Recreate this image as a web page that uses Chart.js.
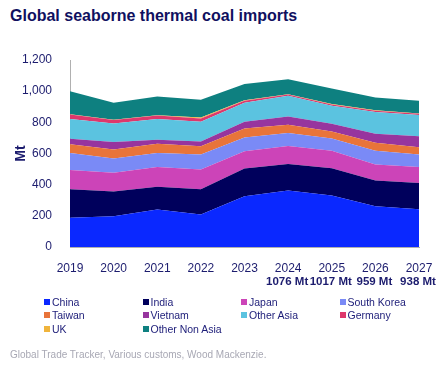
<!DOCTYPE html>
<html>
<head>
<meta charset="utf-8">
<script src="https://cdn.jsdelivr.net/npm/chart.js@4"></script>
<style>
  body { margin: 0; width: 448px; height: 367px; position: relative; background: #fff; font-family: "Liberation Sans", Arial, sans-serif; overflow: hidden; }
  #title { position: absolute; left: 10px; top: 6px; font-size: 16px; line-height: 20px; font-weight: bold; color: #10105f; }
  #chart { position: absolute; left: 0; top: 0; }
  #legend { position: absolute; left: 44px; top: 295px; display: grid; grid-template-columns: repeat(4, 98.5px); grid-auto-rows: 13.5px; font-size: 10.5px; color: #1c1c78; }
  #legend div { display: flex; align-items: center; white-space: nowrap; }
  #legend span.box { width: 6px; height: 6px; margin-right: 2px; display: inline-block; }
  #source { position: absolute; left: 10px; top: 349px; font-size: 10px; color: #a8a8b4; }
</style>
</head>
<body>
<div id="title">Global seaborne thermal coal imports</div>
<canvas id="chart" width="448" height="367"></canvas>
<div id="legend"></div>
<div id="source">Global Trade Tracker, Various customs, Wood Mackenzie.</div>
<script>
const years = ['2019', '2020', '2021', '2022', '2023', '2024', '2025', '2026', '2027'];
const totalLabels = ['', '', '', '', '', '1076 Mt', '1017 Mt', '959 Mt', '938 Mt'];

const china = [188, 198, 241, 209, 325, 362, 330, 262, 243];
const india = [183, 158, 145, 162, 179, 170, 175, 165, 168];
const japan = [123, 121, 127, 127, 110, 116, 113, 102, 103];
const southKorea = [109, 91, 90, 95, 89, 84, 78, 88, 80];
const taiwan = [57, 57, 60, 53, 58, 53, 45, 52, 46];
const vietnam = [34, 48, 25, 31, 43, 52, 50, 58, 70];
const otherAsia = [127, 120, 133, 127, 122, 133, 115, 140, 137];
const germany = [29, 22, 23, 20, 13, 9, 9, 8, 8];
const uk = [2, 1, 2, 7, 2, 2, 2, 2, 2];
const otherNonAsia = [148, 110, 120, 114, 105, 95, 100, 82, 81];

const series = [
    { label: 'China', data: china, color: '#0a28ff' },
    { label: 'India', data: india, color: '#00005c' },
    { label: 'Japan', data: japan, color: '#cc44b8' },
    { label: 'South Korea', data: southKorea, color: '#7a8af6' },
    { label: 'Taiwan', data: taiwan, color: '#e8743a' },
    { label: 'Vietnam', data: vietnam, color: '#97359e' },
    { label: 'Other Asia', data: otherAsia, color: '#5bc3e0' },
    { label: 'Germany', data: germany, color: '#dd386c' },
    { label: 'UK', data: uk, color: '#f0b43c' },
    { label: 'Other Non Asia', data: otherNonAsia, color: '#0e8080' },
];

const textColor = '#1c1c6e';

// totals written under the x axis
const totalsPlugin = {
    id: 'totals',
    afterDraw(chart) {
        const ctx = chart.ctx;
        const xScale = chart.scales.x;
        ctx.save();
        ctx.font = 'bold 11.5px "Liberation Sans", Arial, sans-serif';
        ctx.fillStyle = textColor;
        ctx.textAlign = 'center';
        ctx.textBaseline = 'middle';
        totalLabels.forEach((t, i) => {
            if (!t) return;
            ctx.fillText(t, xScale.getPixelForValue(i) - 1, 282);
        });
        ctx.restore();
    }
};

new Chart(document.getElementById('chart'), {
    type: 'line',
    data: {
        labels: years,
        datasets: series.map((s, i) => ({
            label: s.label,
            data: s.data,
            backgroundColor: s.color,
            borderColor: s.color,
            borderWidth: 0,
            pointRadius: 0,
            tension: 0,
            fill: i === 0 ? 'origin' : '-1',
        }))
    },
    options: {
        responsive: false,
        animation: false,
        events: [],
        layout: { padding: { top: 60, right: 29, bottom: 0, left: 11 } },
        plugins: {
            legend: { display: false },
            tooltip: { enabled: false }
        },
        scales: {
            x: {
                grid: { display: false },
                border: { display: true, color: '#b0b0b0' },
                ticks: {
                    color: textColor,
                    padding: 6,
                    maxRotation: 0,
                    font: { family: '"Liberation Sans", Arial, sans-serif', size: 12 }
                },
                afterFit(scale) { scale.height = 120; }
            },
            y: {
                stacked: true,
                min: 0,
                max: 1200,
                grid: { display: false },
                border: { display: true, color: '#b0b0b0' },
                ticks: {
                    stepSize: 200,
                    color: textColor,
                    padding: 10,
                    font: { family: '"Liberation Sans", Arial, sans-serif', size: 12 }
                },
                title: {
                    display: true,
                    text: 'Mt',
                    color: textColor,
                    padding: { top: 2, bottom: 0 },
                    font: { family: '"Liberation Sans", Arial, sans-serif', size: 14, weight: 'bold' }
                },
                afterFit(scale) { scale.width = 59; }
            }
        }
    },
    plugins: [totalsPlugin]
});

// legend in four columns, same order as the series
const legendDiv = document.getElementById('legend');
series.forEach(s => {
    const item = document.createElement('div');
    const box = document.createElement('span');
    box.className = 'box';
    box.style.background = s.color;
    const name = document.createElement('span');
    name.textContent = s.label;
    item.appendChild(box);
    item.appendChild(name);
    legendDiv.appendChild(item);
});
</script>
</body>
</html>
